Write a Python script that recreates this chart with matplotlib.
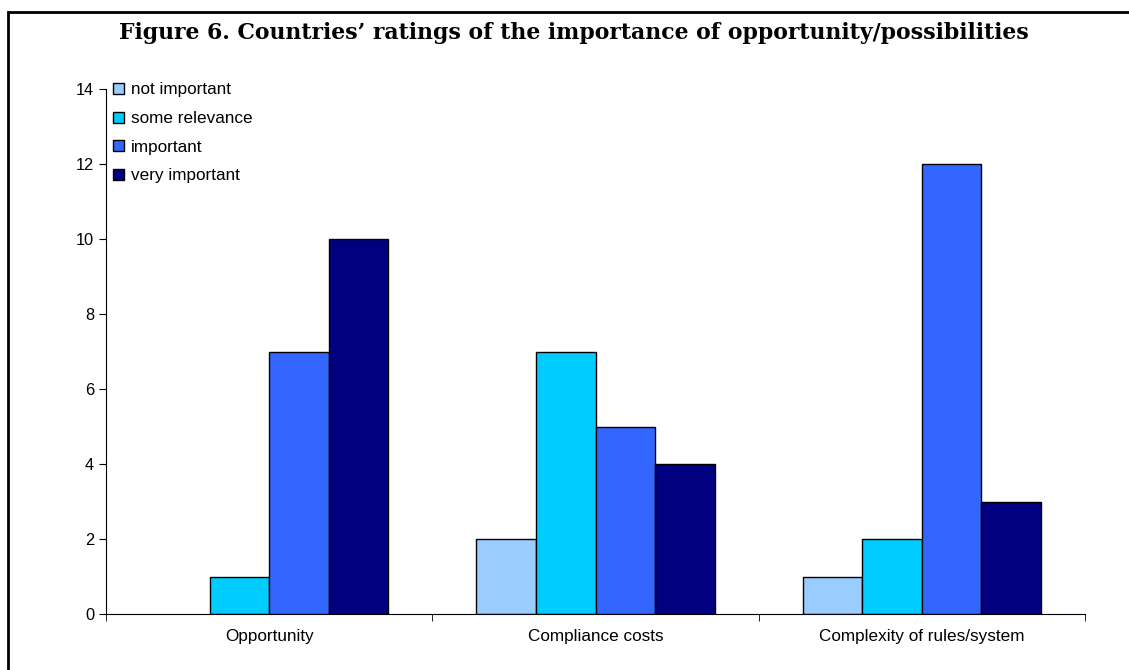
import numpy as np
import matplotlib.pyplot as plt
from matplotlib.patches import Rectangle

categories = ['Opportunity', 'Compliance costs', 'Complexity of rules/system']
series = ['not important', 'some relevance', 'important', 'very important']
not_important = [0, 2, 1]
some_relevance = [1, 7, 2]
important = [7, 5, 12]
very_important = [10, 4, 3]
colors = ['#99CCFF', '#00CCFF', '#3366FF', '#000080']

fig = plt.figure(figsize=(11.29, 6.70), dpi=100)
ax = fig.add_axes([106 / 1129, 1 - 614 / 670, 979 / 1129, 525 / 670])

# outer frame, open on the right and bottom
fig.patches.append(Rectangle((8 / 1129, -0.1), 2, 1 - 12 / 670 + 0.1,
                             transform=fig.transFigure, fill=False,
                             edgecolor='black', linewidth=2))

fig.text(574 / 1129, 1 - 33 / 670,
         "Figure 6. Countries\u2019 ratings of the importance of opportunity/possibilities",
         ha='center', va='center', fontsize=15.8, fontweight='bold',
         family='DejaVu Serif')

x = np.arange(len(categories))
w = 0.1825
values = [not_important, some_relevance, important, very_important]
for i, (name, vals) in enumerate(zip(series, values)):
    vals = np.array(vals, dtype=float)
    # zero-height bars get no outline
    ax.bar(x + (i - 1.5) * w, vals, w, color=colors[i], edgecolor='black',
           linewidth=[1 if v > 0 else 0 for v in vals], label=name)

font = 'Liberation Sans'
ax.set_xlim(-0.5, 2.5)
ax.set_ylim(0, 14)
ax.set_yticks(range(0, 15, 2))
ax.set_xticks(x)
ax.set_xticklabels(categories, family=font, fontsize=12.3)
ax.tick_params(axis='x', length=0, pad=11)
ax.set_xticks([-0.5, 0.5, 1.5, 2.5], minor=True)
ax.tick_params(axis='x', which='minor', length=5, direction='out')
ax.tick_params(axis='y', length=5, direction='out', labelsize=11.8)
for lbl in ax.get_yticklabels():
    lbl.set_family(font)
for s in ['top', 'right']:
    ax.spines[s].set_visible(False)

leg = ax.legend(loc='upper left', bbox_to_anchor=(-0.003, 1.032), frameon=False,
                prop={'family': font, 'size': 12.3},
                handlelength=0.6, handleheight=0.6, handletextpad=0.45,
                labelspacing=0.8, borderaxespad=0.2)
for h in leg.legend_handles:
    h.set_linewidth(1)

fig.savefig('out.png', dpi=100)
